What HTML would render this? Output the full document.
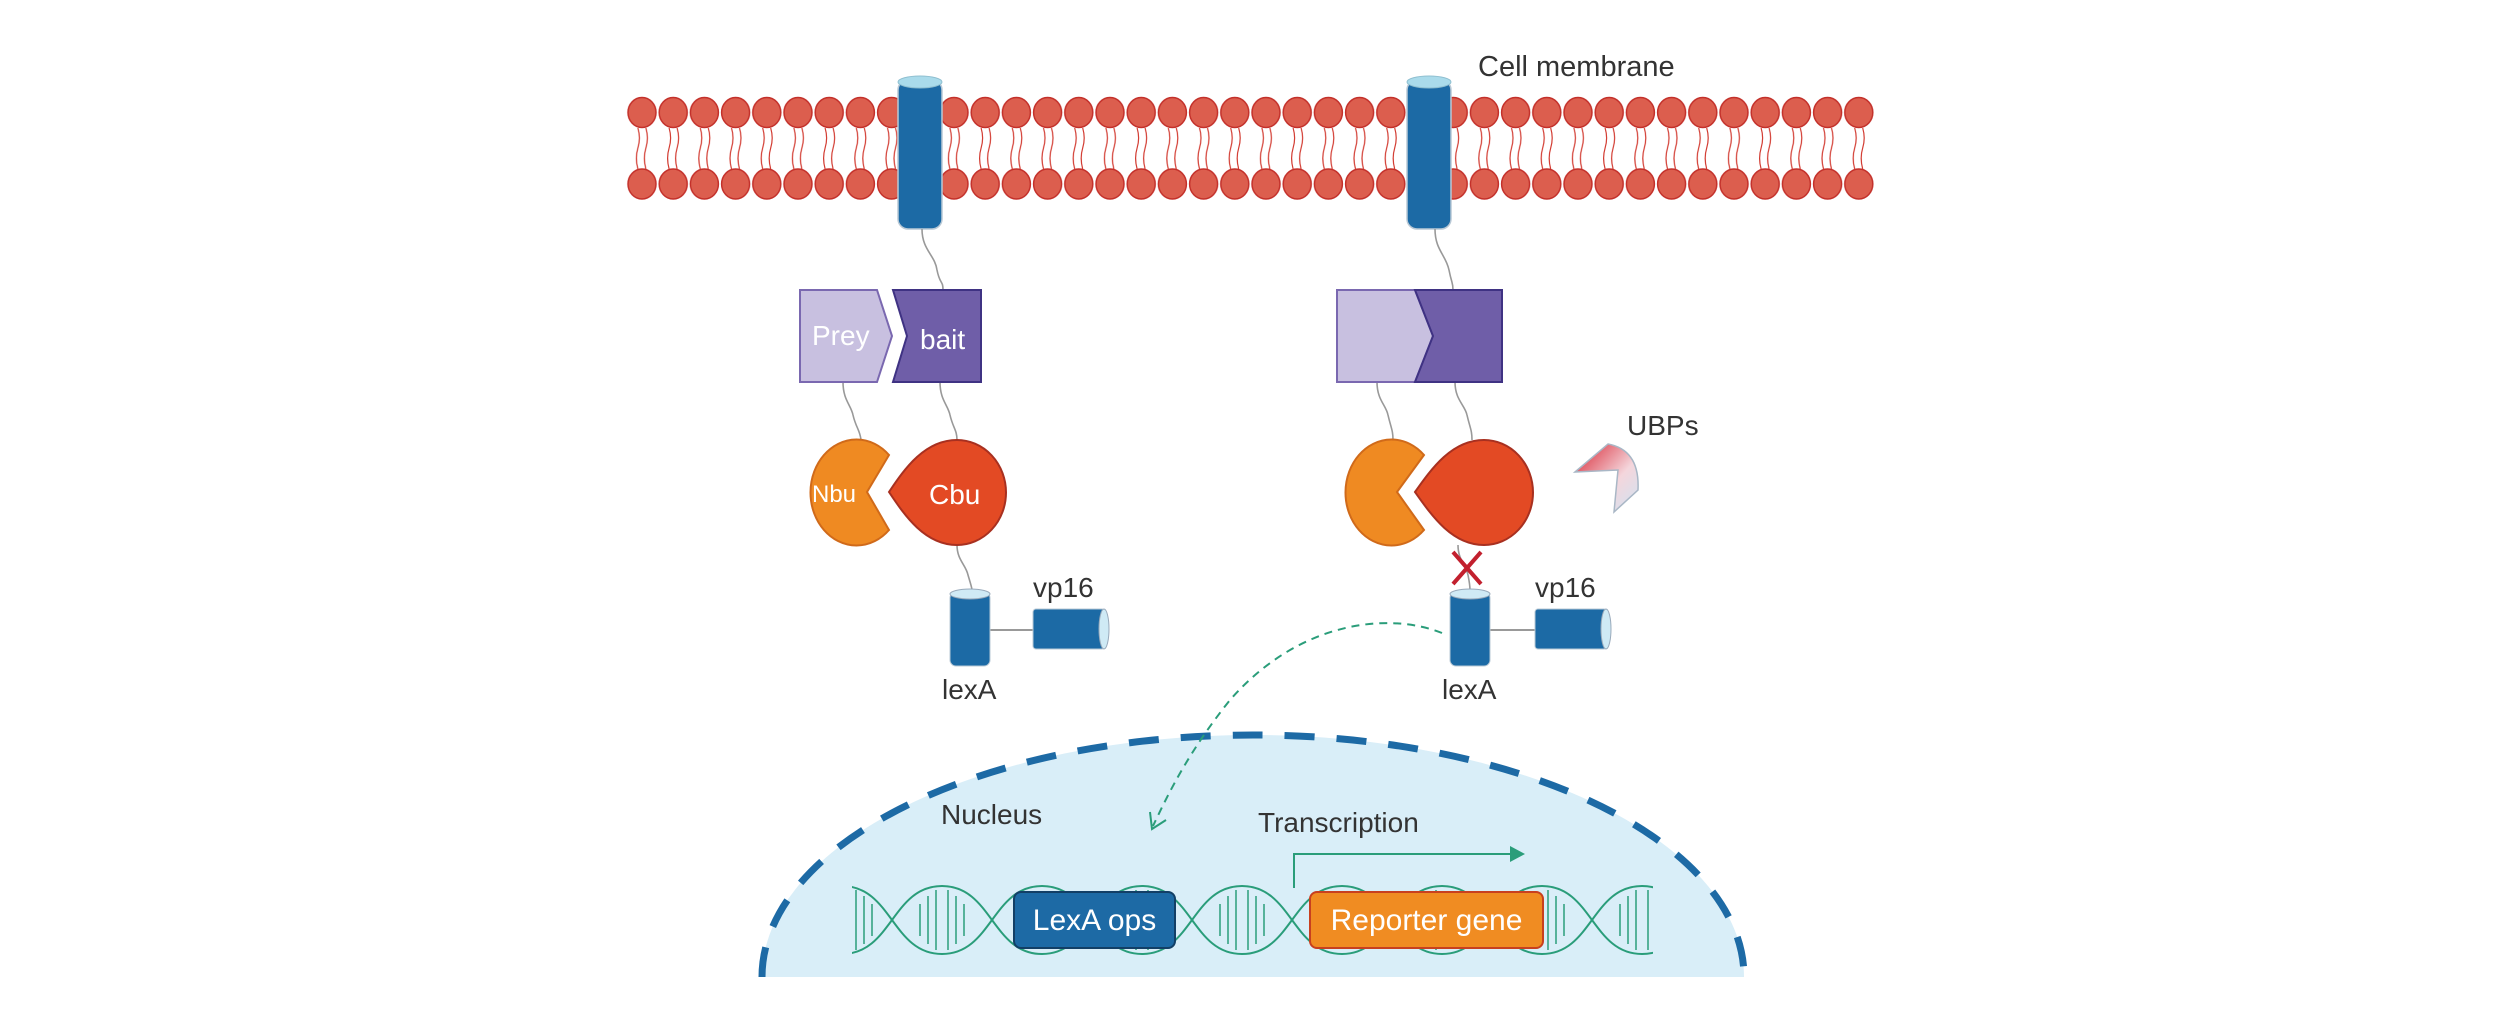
<!DOCTYPE html>
<html><head><meta charset="utf-8"><style>
html,body{margin:0;padding:0;background:#fff}
svg{display:block}
text{font-family:"Liberation Sans",Arial,sans-serif}
</style></head><body>
<svg width="2500" height="1032" viewBox="0 0 2500 1032" xmlns="http://www.w3.org/2000/svg">
<defs>
<pattern id="lip" x="626.4" y="0" width="31.2" height="1032" patternUnits="userSpaceOnUse">
<path d="M11.5,128 q3,10 0,20 q-3,10 0,21 M19.5,128 q3,10 0,20 q-3,10 0,21" stroke="#d23a30" stroke-width="1.2" fill="none"/>
<ellipse cx="15.6" cy="112.5" rx="14" ry="15" fill="#dc5e4e" stroke="#c3302a" stroke-width="1.5"/>
<ellipse cx="15.6" cy="184" rx="14" ry="15" fill="#dc5e4e" stroke="#c3302a" stroke-width="1.5"/>
</pattern>
<linearGradient id="ubp" x1="0" y1="0" x2="1" y2="1">
<stop offset="0" stop-color="#d8202e"/><stop offset="0.6" stop-color="#f4d6dc"/><stop offset="1" stop-color="#cfe3f2"/>
</linearGradient>
<clipPath id="dnaclip"><rect x="852" y="870" width="801" height="100"/></clipPath>
</defs>
<rect x="626.4" y="95" width="1248" height="106" fill="url(#lip)"/>

<g>
<rect x="898" y="80" width="44" height="149" rx="10" fill="#1c6aa5" stroke="#b9c9d6" stroke-width="1.5"/>
<ellipse cx="920" cy="82" rx="22" ry="6" fill="#aadbeb" stroke="#8fbfd0"/>
<rect x="1407" y="80" width="44" height="149" rx="10" fill="#1c6aa5" stroke="#b9c9d6" stroke-width="1.5"/>
<ellipse cx="1429" cy="82" rx="22" ry="6" fill="#aadbeb" stroke="#8fbfd0"/>
</g>
<text x="1478" y="76" font-size="29" fill="#333">Cell membrane</text>

<g stroke="#999" stroke-width="1.6" fill="none">
<path d="M922,229 C922,250 935,255 937,270 C940,285 943,280 943,290"/>
<path d="M843,382 C843,400 851,405 853,415 C856,428 860,430 861,440"/>
<path d="M940,382 C940,400 948,405 950,415 C953,428 957,430 957,440"/>
<path d="M957,545 C957,560 966,565 968,575 C971,585 972,588 972,590"/>
<path d="M1435,229 C1435,250 1446,255 1449,270 C1452,285 1453,282 1453,290"/>
<path d="M1377,382 C1377,400 1386,405 1388,415 C1391,428 1393,430 1393,440"/>
<path d="M1455,382 C1455,400 1465,405 1467,415 C1470,428 1472,430 1472,440"/>
<path d="M1458,545 C1458,560 1466,565 1468,575 C1470,585 1470,588 1470,590"/>
</g>

<path d="M800,290 H877 L892,336 L877,382 H800 Z" fill="#c8c0e0" stroke="#7a68b0" stroke-width="2"/>
<path d="M893,290 H981 V382 H893 L907,336 Z" fill="#6f5ea8" stroke="#3f3283" stroke-width="2"/>
<text x="812" y="345" font-size="28" fill="#fff">Prey</text>
<text x="920" y="349" font-size="28" fill="#fff">bait</text>
<path d="M1337,290 H1415 L1433,336 L1415,382 H1337 Z" fill="#c8c0e0" stroke="#7a68b0" stroke-width="2"/>
<path d="M1415,290 H1502 V382 H1415 L1433,336 Z" fill="#6f5ea8" stroke="#3f3283" stroke-width="2"/>

<path d="M889,455 L867,492 L889,530 A46 53 0 1 1 889,455 Z" fill="#ef8a22" stroke="#d06a1a" stroke-width="2"/>
<path d="M889,492 C905,468 925,440 957,440 A49 52.5 0 0 1 957,545 C925,545 905,516 889,492 Z" fill="#e34a24" stroke="#a83020" stroke-width="2"/>
<text x="812" y="502" font-size="24" fill="#fff">Nbu</text>
<text x="929" y="504" font-size="28" fill="#fff">Cbu</text>
<path d="M1424,455 L1397,492 L1424,530 A46 53 0 1 1 1424,455 Z" fill="#ef8a22" stroke="#d06a1a" stroke-width="2"/>
<path d="M1415,492 C1432,468 1452,440 1484,440 A49 52.5 0 0 1 1484,545 C1452,545 1432,516 1415,492 Z" fill="#e34a24" stroke="#a83020" stroke-width="2"/>

<path d="M1575,472 L1608,444 Q1640,450 1638,490 L1614,512 L1618,470 Z" fill="url(#ubp)" stroke="#a9b7c6" stroke-width="1.5"/>
<text x="1627" y="435" font-size="28" fill="#333">UBPs</text>

<path d="M1453,552 L1481,584 M1481,552 L1453,584" stroke="#c2202e" stroke-width="4"/>

<line x1="990" y1="630" x2="1033" y2="630" stroke="#999" stroke-width="2"/>
<rect x="950" y="592" width="40" height="74" rx="6" fill="#1c6aa5" stroke="#b9c9d6"/>
<ellipse cx="970" cy="594" rx="20" ry="5" fill="#cfeaf5" stroke="#9ab"/>
<rect x="1033" y="609" width="72" height="40" rx="3" fill="#1c6aa5" stroke="#b9c9d6"/>
<ellipse cx="1104" cy="629" rx="5" ry="20" fill="#cfeaf5" stroke="#9ab"/>
<text x="1033" y="597" font-size="28" fill="#333">vp16</text>
<text x="942" y="699" font-size="28" fill="#333">lexA</text>
<line x1="1490" y1="630" x2="1535" y2="630" stroke="#999" stroke-width="2"/>
<rect x="1450" y="592" width="40" height="74" rx="6" fill="#1c6aa5" stroke="#b9c9d6"/>
<ellipse cx="1470" cy="594" rx="20" ry="5" fill="#cfeaf5" stroke="#9ab"/>
<rect x="1535" y="609" width="72" height="40" rx="3" fill="#1c6aa5" stroke="#b9c9d6"/>
<ellipse cx="1606" cy="629" rx="5" ry="20" fill="#cfeaf5" stroke="#9ab"/>
<text x="1535" y="597" font-size="28" fill="#333">vp16</text>
<text x="1442" y="699" font-size="28" fill="#333">lexA</text>

<path d="M762,977 A491 242 0 0 1 1744,977 Z" fill="#d9eef8"/>
<path d="M762,977 A491 242 0 0 1 1744,977" fill="none" stroke="#1d6aa5" stroke-width="7" stroke-dasharray="30,22"/>
<text x="941" y="824" font-size="28" fill="#333">Nucleus</text>
<text x="1258" y="832" font-size="28" fill="#333">Transcription</text>

<path d="M1442,633 C1390,612 1300,620 1230,700 C1190,750 1170,790 1153,826" fill="none" stroke="#2a9d7a" stroke-width="2" stroke-dasharray="8,6"/>
<path d="M1150,812 L1152,829 L1166,820" fill="none" stroke="#2a9d7a" stroke-width="2"/>

<path d="M1294,888 V854 H1515" fill="none" stroke="#2a9d7a" stroke-width="2"/>
<path d="M1510,846 L1525,854 L1510,862 Z" fill="#2a9d7a"/>

<g clip-path="url(#dnaclip)">
<g stroke="#2a9d7a" stroke-width="2" fill="none">
<path d="M742,954 C792,954 792,886 842,886 C892,886 892,954 942,954 C992,954 992,886 1042,886 C1092,886 1092,954 1142,954 C1192,954 1192,886 1242,886 C1292,886 1292,954 1342,954 C1392,954 1392,886 1442,886 C1492,886 1492,954 1542,954 C1592,954 1592,886 1642,886 C1692,886 1692,954 1742,954"/>
<path d="M742,886 C792,886 792,954 842,954 C892,954 892,886 942,886 C992,886 992,954 1042,954 C1092,954 1092,886 1142,886 C1192,886 1192,954 1242,954 C1292,954 1292,886 1342,886 C1392,886 1392,954 1442,954 C1492,954 1492,886 1542,886 C1592,886 1592,954 1642,954 C1692,954 1692,886 1742,886"/>
</g>
<g stroke="#2a9d7a" stroke-width="1.5">
<path d="M856,890V950M864,896V944M872,904V936M920,904V936M928,896V944M936,890V950M948,890V950M956,896V944M964,904V936M1120,904V936M1128,896V944M1136,890V950M1148,890V950M1156,896V944M1164,904V936M1220,904V936M1228,896V944M1236,890V950M1248,890V950M1256,896V944M1264,904V936M1420,904V936M1428,896V944M1436,890V950M1548,890V950M1556,896V944M1564,904V936M1620,904V936M1628,896V944M1636,890V950M1648,890V950"/>
</g>
</g>

<rect x="1014" y="892" width="161" height="56" rx="7" fill="#1d6aa5" stroke="#123f66" stroke-width="2"/>
<text x="1094.5" y="930" font-size="30" fill="#fff" text-anchor="middle">LexA ops</text>
<rect x="1310" y="892" width="233" height="56" rx="7" fill="#f08c22" stroke="#c8401f" stroke-width="2"/>
<text x="1426.5" y="930" font-size="30" fill="#fff" text-anchor="middle">Reporter gene</text>
</svg>
</body></html>
